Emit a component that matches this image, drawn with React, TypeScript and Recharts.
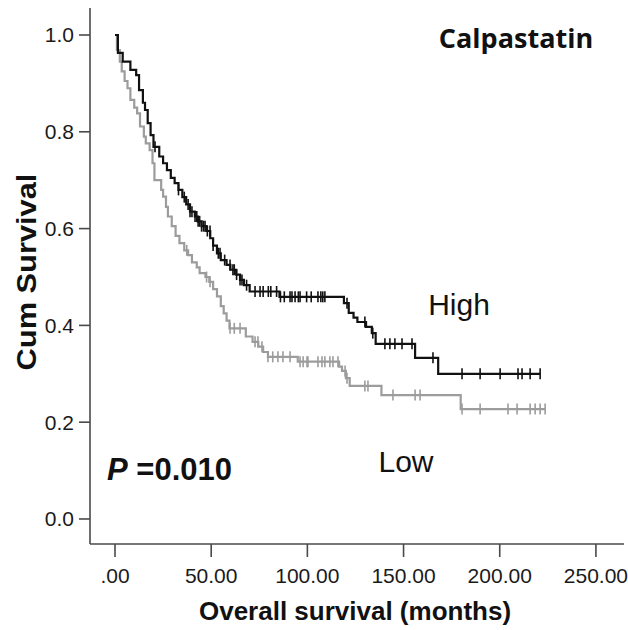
import { ComposedChart, Line, XAxis, YAxis } from "recharts";

// Kaplan-Meier steps: time (months) where the curve drops, and the new value
const highTimes = [0, 1.5, 4, 8, 11, 12.5, 14.5, 15.6, 17, 18.5, 20, 23, 25, 27, 29, 31, 33, 35, 37, 39, 41.5, 43, 45, 47.5, 49.5, 51, 53, 55, 58, 60, 63, 65, 67, 70, 85.5, 119, 121.5, 124, 126, 130.5, 133.5, 135.5, 156, 168];
const highSurv = [1.0, 0.963, 0.945, 0.928, 0.917, 0.886, 0.86, 0.845, 0.818, 0.793, 0.769, 0.749, 0.735, 0.721, 0.705, 0.694, 0.68, 0.665, 0.65, 0.635, 0.625, 0.615, 0.605, 0.595, 0.58, 0.565, 0.549, 0.535, 0.525, 0.515, 0.505, 0.494, 0.483, 0.47, 0.459, 0.446, 0.426, 0.416, 0.407, 0.397, 0.384, 0.362, 0.333, 0.3];
const highCensored = [20.8, 33, 36, 38, 39, 40, 41.6, 42.5, 43.2, 44, 45, 46, 46.8, 48, 49.4, 51, 53.7, 54.6, 57, 59.8, 61.3, 62, 63.2, 65, 66, 68.4, 72.8, 75.4, 77, 79.7, 81, 84, 86, 88, 91, 92, 93.6, 95.3, 96.2, 99.6, 102, 105.5, 107, 108, 109.1, 120.6, 129.9, 134, 140.3, 142.9, 145.5, 149.2, 154.4, 165.3, 180.4, 189.8, 200.2, 209.5, 211.6, 215.8, 221];

const lowTimes = [0, 1, 2.5, 3.5, 5, 6.5, 8, 10, 11.5, 13, 15, 16, 18, 19.5, 20.5, 24, 25, 26.5, 27.5, 29.5, 31.5, 33.5, 36, 38, 40, 42.5, 44, 47, 49, 51, 53, 55, 56.5, 58, 59.5, 68, 71.5, 74.5, 77, 79.5, 95, 116.5, 118, 120, 122, 138.5, 179.7];
const lowSurv = [1.0, 0.969, 0.945, 0.925, 0.905, 0.89, 0.866, 0.85, 0.838, 0.811, 0.79, 0.776, 0.762, 0.735, 0.7, 0.68, 0.666, 0.645, 0.625, 0.605, 0.585, 0.57, 0.555, 0.545, 0.53, 0.52, 0.508, 0.5, 0.49, 0.475, 0.46, 0.44, 0.425, 0.41, 0.394, 0.377, 0.366, 0.356, 0.345, 0.335, 0.325, 0.315, 0.306, 0.291, 0.275, 0.256, 0.227];
const lowCensored = [37.3, 47.6, 49.4, 59.8, 62, 65, 72.8, 74.3, 76.4, 79.5, 82, 84.7, 87.3, 91, 96.2, 97.8, 99.8, 100.3, 105.5, 107.6, 109.1, 111.7, 113.3, 115.9, 119.6, 120.6, 129.9, 131.5, 144.5, 156, 158.6, 180.4, 189.8, 204.3, 209, 215.8, 218.4, 221, 223.6];

const xTicks = [0, 50, 100, 150, 200, 250];
const yTicks = [0, 0.2, 0.4, 0.6, 0.8, 1.0];

// merge drop points and censored times into one step series
const buildSeries = (times: number[], surv: number[], censored: number[]) => {
  const rows = times.map((t, i) => ({ t, s: surv[i], c: false }));
  censored.forEach((t) => {
    let s = surv[0];
    times.forEach((tt, i) => {
      if (tt <= t) s = surv[i];
    });
    rows.push({ t, s, c: true });
  });
  return rows.sort((a, b) => a.t - b.t);
};

const highData = buildSeries(highTimes, highSurv, highCensored);
const lowData = buildSeries(lowTimes, lowSurv, lowCensored);

const X_DOMAIN = [-13, 264.6];
const Y_DOMAIN = [-0.0517, 1.0558];
const AXIS = "#4a4a4a";
const FONT = "'Liberation Sans', Arial, sans-serif";

const censorMark = (color: string) => (props: any) => {
  const { cx, cy, payload, index } = props;
  if (!payload || !payload.c) return <g key={`d${index}`} />;
  return <line key={`d${index}`} x1={cx} x2={cx} y1={cy - 5.5} y2={cy + 5.5} stroke={color} strokeWidth={1.6} />;
};

const App = () => {
  return (
    <div style={{ position: "absolute", left: 0, top: 0, width: 628, height: 630, background: "#fff", fontFamily: FONT }}>
      <ComposedChart width={628} height={630} margin={{ top: 8, right: 4, bottom: 0, left: 0 }}>
        <XAxis
          type="number"
          dataKey="t"
          domain={X_DOMAIN}
          ticks={xTicks}
          allowDataOverflow
          height={86}
          stroke={AXIS}
          strokeWidth={1.6}
          tickSize={13}
          tickMargin={11}
          tick={{ fill: "#1a1a1a", fontSize: 21, fontFamily: FONT }}
          tickFormatter={(v: number) => (v === 0 ? ".00" : v.toFixed(2))}
        />
        <XAxis xAxisId="top" orientation="top" type="number" domain={X_DOMAIN} allowDataOverflow height={0} tick={false} tickLine={false} stroke={AXIS} strokeWidth={1.6} />
        <YAxis
          type="number"
          domain={Y_DOMAIN}
          ticks={yTicks}
          allowDataOverflow
          width={90}
          stroke={AXIS}
          strokeWidth={1.6}
          tickSize={11}
          tickMargin={5}
          tick={{ fill: "#1a1a1a", fontSize: 21, fontFamily: FONT }}
          tickFormatter={(v: number) => v.toFixed(1)}
        />
        <YAxis yAxisId="right" orientation="right" type="number" domain={Y_DOMAIN} allowDataOverflow width={0} tick={false} tickLine={false} stroke={AXIS} strokeWidth={1.6} />
        <Line
          data={lowData}
          dataKey="s"
          type="stepAfter"
          stroke="#9c9c9c"
          strokeWidth={2.2}
          dot={censorMark("#9c9c9c")}
          activeDot={false}
          isAnimationActive={false}
        />
        <Line
          data={highData}
          dataKey="s"
          type="stepAfter"
          stroke="#111"
          strokeWidth={2.2}
          dot={censorMark("#111")}
          activeDot={false}
          isAnimationActive={false}
        />
      </ComposedChart>

      <div style={{ position: "absolute", left: 27, top: 272, transform: "translate(-50%, -50%) rotate(-90deg) scaleX(1.1)", whiteSpace: "nowrap", fontWeight: 700, fontSize: 28, color: "#111" }}>
        Cum Survival
      </div>
      <div style={{ position: "absolute", left: 355, top: 611, transform: "translate(-50%, -50%)", whiteSpace: "nowrap", fontWeight: 700, fontSize: 26, color: "#111" }}>
        Overall survival (months)
      </div>
      <div style={{ position: "absolute", left: 516, top: 37, transform: "translate(-50%, -50%)", whiteSpace: "nowrap", fontWeight: 700, fontSize: 27, color: "#111", fontFamily: "'Open Sans', Lato, sans-serif" }}>
        Calpastatin
      </div>
      <div style={{ position: "absolute", left: 459, top: 305, transform: "translate(-50%, -50%)", whiteSpace: "nowrap", fontSize: 30, color: "#111" }}>
        High
      </div>
      <div style={{ position: "absolute", left: 406, top: 462, transform: "translate(-50%, -50%)", whiteSpace: "nowrap", fontSize: 30, color: "#111" }}>
        Low
      </div>
      <div style={{ position: "absolute", left: 107, top: 470, transform: "translateY(-50%)", whiteSpace: "nowrap", fontWeight: 700, fontSize: 31, color: "#111" }}>
        <span style={{ fontStyle: "italic" }}>P</span> =0.010
      </div>
    </div>
  );
};

export default App;
